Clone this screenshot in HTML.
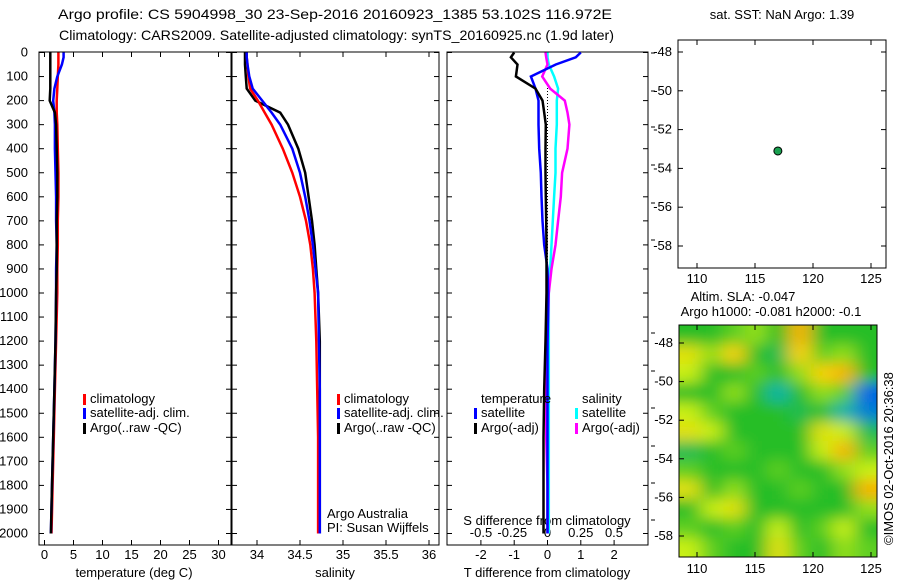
<!DOCTYPE html>
<html><head><meta charset="utf-8"><style>
body{margin:0;background:#fff}
svg{display:block;font-family:"Liberation Sans",sans-serif;font-size:13px}
</style></head><body>
<svg id="fig" width="900" height="580" xmlns="http://www.w3.org/2000/svg">
<text x="58" y="19" font-size="14" textLength="554" lengthAdjust="spacingAndGlyphs">Argo profile: CS 5904998_30 23-Sep-2016 20160923_1385 53.102S 116.972E</text>
<text x="59" y="40" font-size="14" textLength="555" lengthAdjust="spacingAndGlyphs">Climatology: CARS2009. Satellite-adjusted climatology: synTS_20160925.nc (1.9d later)</text>
<text x="782" y="19" text-anchor="middle">sat. SST: NaN Argo: 1.39</text>
<text x="743" y="301" text-anchor="middle">Altim. SLA: -0.047</text>
<text x="771" y="316" text-anchor="middle">Argo h1000: -0.081 h2000: -0.1</text>
<text transform="translate(893,545) rotate(-90)">©IMOS 02-Oct-2016 20:36:38</text>
<g id="g"></g>
</svg>
<script>
const depths=[0,20,50,100,150,200,250,300,400,500,600,700,800,900,1000,1200,1400,1600,1800,2000];
const tClim=[2.4,2.4,2.4,2.3,2.2,2.1,2.1,2.2,2.3,2.4,2.4,2.3,2.3,2.2,2.2,2.0,1.8,1.6,1.4,1.2];
const tSat=[3.3,3.3,3.0,2.2,1.7,1.5,1.7,1.8,1.8,1.9,2.0,2.0,2.1,2.0,2.0,1.9,1.7,1.5,1.3,1.1];
const tArgo=[1.0,1.0,1.0,1.0,1.0,0.9,1.8,2.0,2.1,2.2,2.2,2.1,2.1,2.1,2.0,1.9,1.7,1.5,1.3,1.1];
const sClim=[33.88,33.88,33.89,33.9,33.92,34.01,34.09,34.17,34.3,34.41,34.5,34.57,34.62,34.65,34.67,34.69,34.7,34.71,34.71,34.71];
const sSat=[33.88,33.88,33.89,33.91,33.95,34.06,34.17,34.27,34.41,34.5,34.56,34.61,34.65,34.68,34.71,34.72,34.73,34.73,34.73,34.73];
const sArgo=[33.86,33.86,33.86,33.87,33.88,33.98,34.27,34.36,34.48,34.56,34.6,34.64,34.67,34.69,34.71,34.73,34.73,34.73,34.73,34.73];
const dTSat=[1.0,0.85,0.25,-0.5,-0.36,-0.27,-0.27,-0.27,-0.25,-0.2,-0.18,-0.15,-0.1,0,0.02,0,0,0,0,0];
const dTArgo=[-1.0,-1.1,-0.9,-0.95,-0.36,-0.15,-0.1,-0.05,-0.06,-0.06,-0.05,-0.04,-0.03,-0.03,-0.03,-0.06,-0.1,-0.12,-0.12,-0.12];
const dSSat=[0,0,0.01,0.05,0.08,0.07,0.07,0.07,0.06,0.06,0.05,0.04,0.03,0.02,0.01,0.01,0.01,0.01,0.01,0.01];
const dSArgo=[-0.015,-0.01,0,-0.04,0.02,0.13,0.15,0.165,0.15,0.11,0.1,0.08,0.06,0.03,0.01,0,-0.01,-0.01,0,0];
const depthTicks=[0,100,200,300,400,500,600,700,800,900,1000,1100,1200,1300,1400,1500,1600,1700,1800,1900,2000];
const tTicks=[0,5,10,15,20,25,30];
const sTicks=[34,34.5,35,35.5,36];
const dTTicks=[-2,-1,0,1,2];
const dSTicks=[-0.5,-0.25,0,0.25,0.5];
const lonTicks=[110,115,120,125];
const latTicks=[-48,-50,-52,-54,-56,-58];
const argoLon=116.972, argoLat=-53.102;
const slaGrid=[
[0,0,0.1,0.2,0,0.6,0,0,0],
[0.4,0.2,0.5,0,-0.1,0.5,0.1,0.2,0],
[0.3,0,0,0.1,0,0.2,0.5,0.6,0],
[0,0,0.2,0,-0.3,0,0.2,0.1,-0.6],
[0.3,0.1,0,0,0,-0.1,0,-0.3,-0.5],
[0.4,0.3,0,0,0,0,0.4,0.3,-0.1],
[-0.1,0,0.1,0,0,0,0.3,0.6,0.1],
[0.1,0,0,0,0.1,0,0,0.2,0.3],
[0.4,0,0.2,0,0,0.1,0,0,0.6],
[0,0.3,0.4,0,0,0,0,0,0.2],
[0.1,0,0.1,0,0.3,0,0.1,0.3,0],
[0.3,0.1,0,0,0.4,0.1,0,0.2,0.1]];

const NS='http://www.w3.org/2000/svg';
const G=document.getElementById('g');
function el(t,a,p){const e=document.createElementNS(NS,t);for(const k in a)e.setAttribute(k,a[k]);(p||G).appendChild(e);return e;}
function txt(x,y,s,anchor,p){const e=el('text',{x:x,y:y,'text-anchor':anchor||'middle'},p);e.textContent=s;return e;}
const yD=d=>52.5+d*0.2405;
const xT=t=>44.5+t*5.8;
const xS=s=>257+(s-34)*86;
const xDT=t=>547.5+t*33.3;
const xDS=s=>547.5+s*133;
const xLon=l=>697+(l-110)*11.6;
const yLat1=l=>52+(-48-l)*19.4;
const yLat2=l=>343+(-48-l)*19.3;

function panel(x0,x1,name){const r=el('rect',{x:x0,y:52,width:x1-x0,height:493,fill:'none',stroke:'#000'});

}
function line(xs,fx,color,name,w){let d='';depths.forEach((dp,i)=>{d+=(i?'L':'M')+fx(xs[i]).toFixed(1)+','+yD(dp).toFixed(1);});
const p=el('path',{d:d,fill:'none',stroke:color,'stroke-width':w||2.5});

}

panel(39,231,'temperature-panel');panel(232,439,'salinity-panel');panel(447,648,'difference-panel');
depthTicks.forEach(d=>{const y=yD(d);
 [[39,1],[231,-1],[232,1],[439,-1],[447,1],[648,-1]].forEach(([x,s])=>el('line',{x1:x,x2:x+s*5,y1:y,y2:y,stroke:'#000'}));
 const t=txt(28,y+4,String(d),'end');
 
 });
tTicks.forEach(v=>{const x=xT(v);el('line',{x1:x,x2:x,y1:52,y2:57,stroke:'#000'});el('line',{x1:x,x2:x,y1:545,y2:540,stroke:'#000'});
 const t=txt(x,559,String(v));});
sTicks.forEach(v=>{const x=xS(v);el('line',{x1:x,x2:x,y1:52,y2:57,stroke:'#000'});el('line',{x1:x,x2:x,y1:545,y2:540,stroke:'#000'});
 const t=txt(x,559,String(v));});
dTTicks.forEach(v=>{const x=xDT(v);el('line',{x1:x,x2:x,y1:545,y2:540,stroke:'#000'});
 const t=txt(x,559,String(v));});
dSTicks.forEach(v=>{const x=xDS(v);const t=txt(x-(v===-0.25?2:0),537,String(v));});
[53,91,127,165,203,240,333,371,408,446,483,520].forEach(y=>el('line',{x1:651,x2:655,y1:y,y2:y,stroke:'#000'}));
let a=txt(134,577,'temperature (deg C)');
a=txt(335,577,'salinity');
a=txt(547,577,'T difference from climatology');
a=txt(547,525,'S difference from climatology');
a=txt(327,518,'Argo Australia','start');
a=txt(327,532,'PI: Susan Wijffels','start');

line(tClim,xT,'#f00','temp-climatology');line(tSat,xT,'#00f','temp-satellite');line(tArgo,xT,'#000','temp-argo');
line(sArgo,xS,'#000','sal-argo');line(sClim,xS,'#f00','sal-climatology');line(sSat,xS,'#00f','sal-satellite');
el('line',{x1:547.5,x2:547.5,y1:85,y2:300,stroke:'#000','stroke-dasharray':'1,2'});
line(dSSat,xDS,'#0ff','s-diff-satellite');line(dSArgo,xDS,'#f0f','s-diff-argo');
line(dTSat,xDT,'#00f','t-diff-satellite');line(dTArgo,xDT,'#000','t-diff-argo');

function leg(x,y,c,s,name){el('rect',{x:x,y:y-9,width:3,height:11,fill:c});const t=txt(x+7,y,s,'start');
 }
[[83,'temp'],[337,'sal']].forEach(([x,n])=>{leg(x,403,'#f00','climatology',n+'-legend-climatology');leg(x,417,'#00f','satellite-adj. clim.',n+'-legend-satellite');leg(x,432,'#000','Argo(..raw -QC)',n+'-legend-argo');});
a=txt(481,403,'temperature','start');
a=txt(582,403,'salinity','start');
leg(474,417,'#00f','satellite','diff-legend-t-satellite');leg(474,432,'#000','Argo(-adj)','diff-legend-t-argo');
leg(575,417,'#0ff','satellite','diff-legend-s-satellite');leg(575,432,'#f0f','Argo(-adj)','diff-legend-s-argo');

const m1=el('rect',{x:678,y:40,width:208,height:228,fill:'none',stroke:'#000'});

lonTicks.forEach(v=>{const x=xLon(v);el('line',{x1:x,x2:x,y1:268,y2:263,stroke:'#000'});el('line',{x1:x,x2:x,y1:40,y2:45,stroke:'#000'});
 const t=txt(x,283,String(v));});
latTicks.forEach(v=>{const y=yLat1(v);el('line',{x1:678,x2:683,y1:y,y2:y,stroke:'#000'});el('line',{x1:886,x2:881,y1:y,y2:y,stroke:'#000'});
 const t=txt(672,y+4,String(v),'end');});
const dot=el('circle',{cx:xLon(argoLon),cy:yLat1(argoLat),r:4,fill:'#1aa050',stroke:'#000'});


function col(v){const st=[[-1,[0,20,200]],[-0.6,[0,100,230]],[-0.3,[0,180,170]],[0,[40,190,40]],[0.3,[200,240,20]],[0.5,[250,210,0]],[0.7,[245,150,0]]];
 v=Math.max(-1,Math.min(0.7,v));for(let i=1;i<st.length;i++){if(v<=st[i][0]){const f=(v-st[i-1][0])/(st[i][0]-st[i-1][0]);
 const c=st[i-1][1].map((a,k)=>Math.round(a+(st[i][1][k]-a)*f));return 'rgb('+c+')';}}return 'rgb(245,150,0)';}
const defs=el('defs',{});
const cp=el('clipPath',{id:'hc'},defs);el('rect',{x:679,y:325,width:198,height:232},cp);
const fl=el('filter',{id:'bl',filterUnits:'userSpaceOnUse',x:650,y:300,width:260,height:290},defs);el('feGaussianBlur',{stdDeviation:'9 7'},fl);
const hg=el('g',{'clip-path':'url(#hc)'});
el('rect',{x:679,y:325,width:198,height:232,fill:col(0)},hg);
const bg=el('g',{filter:'url(#bl)'},hg);
const cw=198/9,ch=232/12;
slaGrid.forEach((row,r)=>row.forEach((v,c)=>{const cell=el('rect',{x:679+c*cw-(c==0?20:0),y:325+r*ch-(r==0?20:0),width:cw+1+(c==0||c==8?20:0),height:ch+1+(r==0||r==11?20:0),fill:col(v)},bg);
 
 }));
const m2=el('rect',{x:679,y:325,width:198,height:232,fill:'none',stroke:'#000'});

lonTicks.forEach(v=>{const x=xLon(v);el('line',{x1:x,x2:x,y1:557,y2:552,stroke:'#000'});el('line',{x1:x,x2:x,y1:325,y2:330,stroke:'#000'});
 const t=txt(x,573,String(v));});
latTicks.forEach(v=>{const y=yLat2(v);el('line',{x1:679,x2:684,y1:y,y2:y,stroke:'#000'});
 const t=txt(673,y+4,String(v),'end');});
</script>
</body></html>
